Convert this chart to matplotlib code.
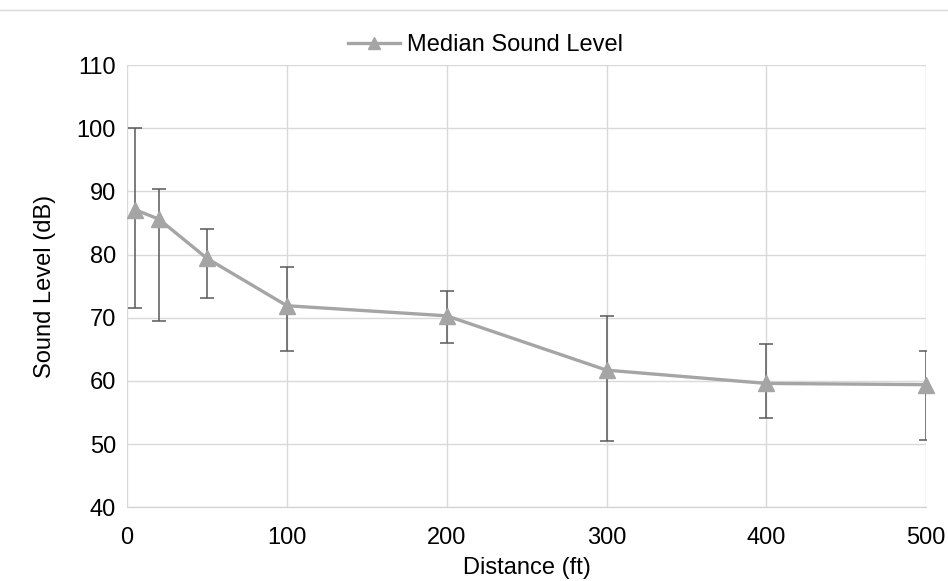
import matplotlib.pyplot as plt
import numpy as np

plt.rcParams['font.family'] = ['Liberation Sans', 'DejaVu Sans']

distance = [5, 20, 50, 100, 200, 300, 400, 500]
median_level = [87.1, 85.6, 79.4, 71.9, 70.3, 61.7, 59.6, 59.4]
err_high = [100.0, 90.4, 84.1, 78.0, 74.3, 70.3, 65.8, 64.8]
err_low = [71.5, 69.5, 73.2, 64.8, 66.0, 50.5, 54.1, 50.7]

med = np.array(median_level)
yerr = [med - np.array(err_low), np.array(err_high) - med]

fig = plt.figure(figsize=(9.48, 5.81), dpi=100)
ax = fig.add_axes([0.134, 0.127, 0.843, 0.761])

ax.errorbar(distance, median_level, yerr=yerr, fmt='none', ecolor='#595959',
            elinewidth=1.1, capsize=5, capthick=1.1, zorder=2)
ax.plot(distance, median_level, color='#a5a5a5', lw=2.4, marker='^',
        markersize=11, clip_on=False, zorder=3, label='Median Sound Level')

ax.set_xlim(0, 500)
ax.set_ylim(40, 110)
ax.set_xticks(np.arange(0, 501, 100))
ax.set_yticks(np.arange(40, 111, 10))
ax.grid(True, color='#d9d9d9', lw=1)
ax.set_axisbelow(True)
for s in ax.spines.values():
    s.set_visible(False)
ax.spines['bottom'].set_visible(True)
ax.spines['bottom'].set_color('#d0d0d0')
ax.tick_params(axis='x', length=0, labelsize=17, pad=14)
ax.tick_params(axis='y', length=0, labelsize=17, pad=8)
ax.set_xlabel('Distance (ft)', fontsize=17, labelpad=6)
ax.set_ylabel('Sound Level (dB)', fontsize=17, labelpad=15)

leg = ax.legend(loc='center', bbox_to_anchor=(0.449, 1.045), frameon=False,
                fontsize=17, handlelength=2.2, handletextpad=0.3,
                markerscale=0.8)

fig.add_artist(plt.Line2D([0, 1], [0.983, 0.983], color='#d9d9d9', lw=1))

fig.savefig('out.png', dpi=100)
